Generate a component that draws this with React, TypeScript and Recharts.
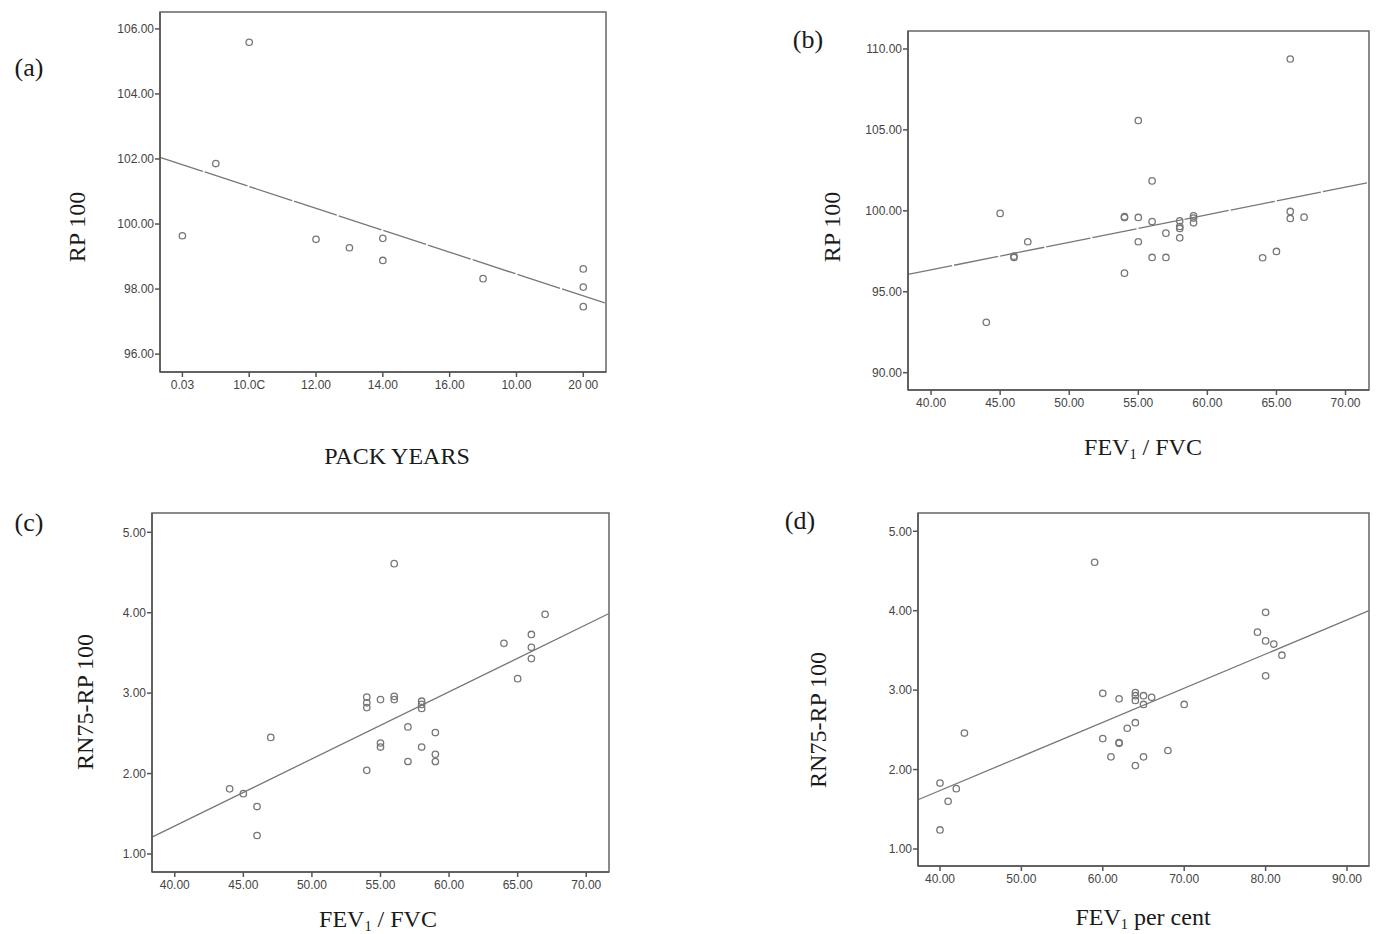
import React from "react";
import {
  ScatterChart,
  Scatter,
  XAxis,
  YAxis,
  ReferenceLine,
  ReferenceArea,
} from "recharts";

// (a) RP 100 vs pack years
const packYears = [8, 9, 10, 12, 13, 14, 14, 17, 20, 20, 20];
const rpA = [99.64, 101.86, 105.59, 99.53, 99.27, 99.56, 98.88, 98.32, 98.62, 98.06, 97.46];
const ticksAX = [8, 10, 12, 14, 16, 18, 20];
const tickLabelsAX = ["0.03", "10.0C", "12.00", "14.00", "16.00", "10.00", "20 00"];
const ticksAY = [96, 98, 100, 102, 104, 106];
const fitA = [
  { x: 7.33, y: 102.05 },
  { x: 20.68, y: 97.56 },
];

// (b) RP 100 vs FEV1/FVC
const fvcB = [66, 55, 56, 45, 54, 54, 55, 56, 57, 58, 58, 58, 58, 59, 59, 59, 47, 46, 46, 55, 56, 57, 54, 44, 64, 65, 66, 66, 67];
const rpB = [109.38, 105.58, 101.85, 99.84, 99.64, 99.58, 99.59, 99.34, 98.62, 99.38, 99.03, 98.91, 98.33, 99.69, 99.55, 99.26, 98.09, 97.2, 97.12, 98.09, 97.12, 97.12, 96.15, 93.11, 97.1, 97.49, 99.96, 99.53, 99.61];
const ticksBX = [40, 45, 50, 55, 60, 65, 70];
const ticksBY = [90, 95, 100, 105, 110];
const fitB = [
  { x: 38.33, y: 96.07 },
  { x: 71.7, y: 101.75 },
];

// (c) RN75-RP 100 vs FEV1/FVC
const fvcC = [56, 67, 66, 64, 66, 66, 65, 54, 54, 54, 55, 56, 56, 58, 58, 58, 57, 59, 55, 55, 58, 59, 59, 57, 54, 47, 44, 45, 46, 46];
const rnC = [4.61, 3.98, 3.73, 3.62, 3.57, 3.43, 3.18, 2.95, 2.88, 2.82, 2.92, 2.96, 2.92, 2.9, 2.86, 2.81, 2.58, 2.51, 2.38, 2.33, 2.33, 2.24, 2.15, 2.15, 2.04, 2.45, 1.81, 1.75, 1.59, 1.23];
const ticksCX = [40, 45, 50, 55, 60, 65, 70];
const ticksCY = [1, 2, 3, 4, 5];
const fitC = [
  { x: 38.34, y: 1.21 },
  { x: 71.66, y: 3.99 },
];

// (d) RN75-RP 100 vs FEV1 per cent
const fevD = [59, 80, 79, 80, 81, 82, 80, 60, 62, 64, 64, 64, 65, 66, 65, 70, 64, 63, 60, 62, 62, 68, 61, 65, 64, 43, 40, 42, 41, 40];
const rnD = [4.61, 3.98, 3.73, 3.62, 3.58, 3.44, 3.18, 2.96, 2.89, 2.97, 2.93, 2.87, 2.93, 2.91, 2.82, 2.82, 2.59, 2.52, 2.39, 2.34, 2.33, 2.24, 2.16, 2.16, 2.05, 2.46, 1.83, 1.76, 1.6, 1.24];
const ticksDX = [40, 50, 60, 70, 80, 90];
const ticksDY = [1, 2, 3, 4, 5];
const fitD = [
  { x: 37.3, y: 1.62 },
  { x: 92.7, y: 4.0 },
];

const toPoints = (xs: number[], ys: number[]) => xs.map((x, i) => ({ x, y: ys[i] }));

const serif = "'Liberation Serif', 'DejaVu Serif', serif";
const sans = "'Liberation Sans', Arial, sans-serif";
const axisColor = "#555";

const Ring = (props: any) => {
  const { cx, cy } = props;
  if (cx == null || cy == null) return null;
  return <circle cx={cx} cy={cy} r={3.2} fill="none" stroke="#777" strokeWidth={1.3} />;
};

type PanelProps = {
  left: number;
  top: number;
  width: number;
  height: number;
  data: { x: number; y: number }[];
  xDomain: [number, number];
  yDomain: [number, number];
  xTicks: number[];
  yTicks: number[];
  xFormat?: (v: number) => string;
  fit: { x: number; y: number }[];
  dashed?: boolean;
};

const Panel = ({ left, top, width, height, data, xDomain, yDomain, xTicks, yTicks, xFormat, fit, dashed }: PanelProps) => (
  <div style={{ position: "absolute", left, top }}>
    <ScatterChart width={width} height={height} margin={{ top: 10, right: 10, left: 0, bottom: 0 }}>
      <XAxis
        type="number"
        dataKey="x"
        domain={xDomain}
        ticks={xTicks}
        allowDataOverflow
        height={30}
        tickSize={5}
        tickMargin={3}
        tickFormatter={xFormat ?? ((v: number) => v.toFixed(2))}
        stroke={axisColor}
        strokeWidth={1.5}
        tick={{ fill: "#444", fontSize: 12, fontFamily: sans }}
      />
      <YAxis
        type="number"
        dataKey="y"
        domain={yDomain}
        ticks={yTicks}
        allowDataOverflow
        width={70}
        tickSize={5}
        tickMargin={1}
        tickFormatter={(v: number) => v.toFixed(2)}
        stroke={axisColor}
        strokeWidth={1.5}
        tick={{ fill: "#444", fontSize: 12, fontFamily: sans }}
      />
      <ReferenceArea
        x1={xDomain[0]}
        x2={xDomain[1]}
        y1={yDomain[0]}
        y2={yDomain[1]}
        fill="none"
        stroke="#666"
        strokeWidth={1.5}
        fillOpacity={0}
      />
      <ReferenceLine
        segment={fit}
        stroke="#777"
        strokeWidth={1.3}
        strokeDasharray={dashed ? "45 2" : undefined}
      />
      <Scatter data={data} shape={Ring} isAnimationActive={false} />
    </ScatterChart>
  </div>
);

const Text = ({ x, y, size, children, rotate }: { x: number; y: number; size: number; children: React.ReactNode; rotate?: boolean }) => (
  <div
    style={{
      position: "absolute",
      left: x,
      top: y,
      transform: `translate(-50%, -50%)${rotate ? " rotate(-90deg)" : ""}`,
      fontFamily: serif,
      fontSize: size,
      color: "#1a1a1a",
      whiteSpace: "nowrap",
      lineHeight: 1,
    }}
  >
    {children}
  </div>
);

const Fev1 = () => (
  <>
    FEV<sub style={{ fontSize: "0.6em", verticalAlign: "-0.3em" }}>1</sub>
  </>
);

export default function App() {
  return (
    <div style={{ position: "absolute", left: 0, top: 0, width: 1379, height: 934, background: "#fff", overflow: "hidden" }}>
      <Panel
        left={90}
        top={2}
        width={526}
        height={400}
        data={toPoints(packYears, rpA)}
        xDomain={[7.33, 20.68]}
        yDomain={[95.45, 106.52]}
        xTicks={ticksAX}
        yTicks={ticksAY}
        xFormat={(v: number) => tickLabelsAX[ticksAX.indexOf(v)] ?? v.toFixed(2)}
        fit={fitA}
        dashed
      />
      <Panel
        left={838}
        top={21}
        width={541}
        height={399}
        data={toPoints(fvcB, rpB)}
        xDomain={[38.33, 71.7]}
        yDomain={[88.93, 111.11]}
        xTicks={ticksBX}
        yTicks={ticksBY}
        fit={fitB}
        dashed
      />
      <Panel
        left={82}
        top={503}
        width={537}
        height={399}
        data={toPoints(fvcC, rnC)}
        xDomain={[38.34, 71.66]}
        yDomain={[0.776, 5.24]}
        xTicks={ticksCX}
        yTicks={ticksCY}
        fit={fitC}
      />
      <Panel
        left={848}
        top={503}
        width={531}
        height={393}
        data={toPoints(fevD, rnD)}
        xDomain={[37.3, 92.7]}
        yDomain={[0.786, 5.23]}
        xTicks={ticksDX}
        yTicks={ticksDY}
        fit={fitD}
      />

      <Text x={29} y={68} size={26}>(a)</Text>
      <Text x={808} y={40} size={26}>(b)</Text>
      <Text x={29} y={523} size={26}>(c)</Text>
      <Text x={800} y={521} size={26}>(d)</Text>

      <Text x={77} y={227} size={24} rotate>RP 100</Text>
      <Text x={832} y={227} size={24} rotate>RP 100</Text>
      <Text x={85} y={702} size={24} rotate>RN75-RP 100</Text>
      <Text x={818} y={720} size={24} rotate>RN75-RP 100</Text>

      <Text x={397} y={456} size={24}>PACK YEARS</Text>
      <Text x={1143} y={448} size={24}><Fev1 /> / FVC</Text>
      <Text x={378} y={920} size={24}><Fev1 /> / FVC</Text>
      <Text x={1143} y={918} size={24}><Fev1 /> per cent</Text>
    </div>
  );
}
